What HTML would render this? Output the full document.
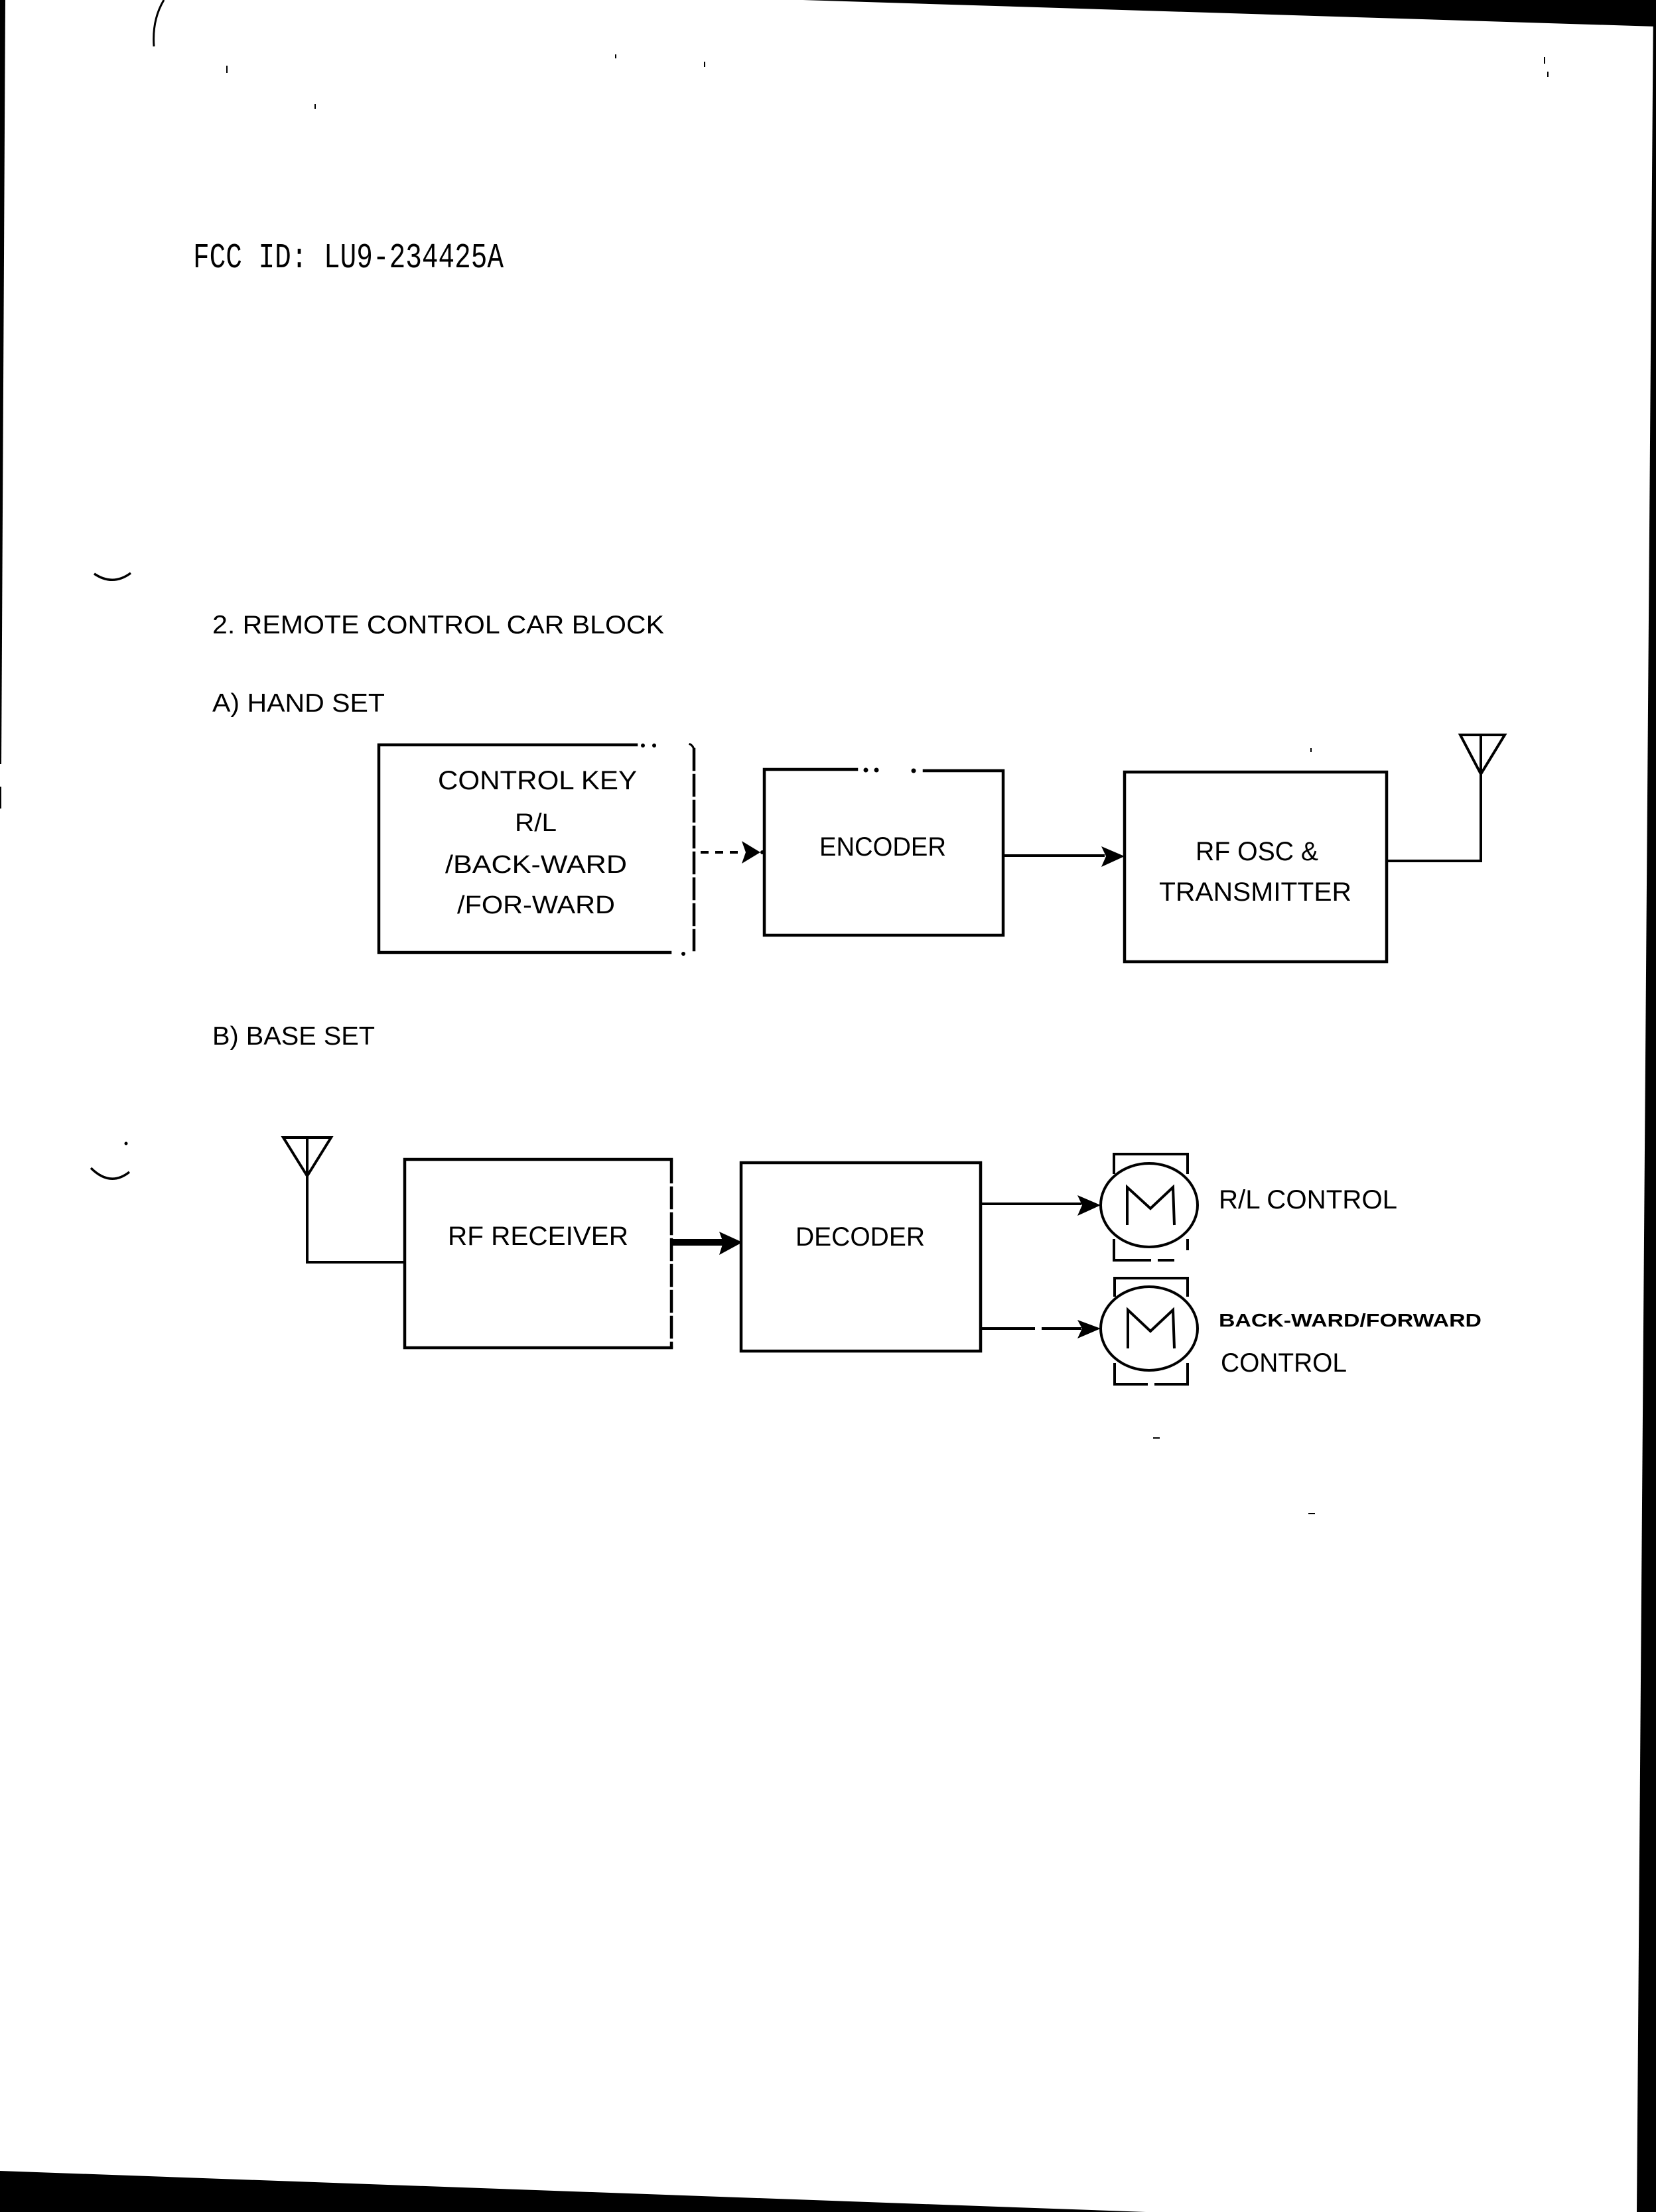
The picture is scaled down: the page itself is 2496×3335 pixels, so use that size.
<!DOCTYPE html>
<html>
<head>
<meta charset="utf-8">
<style>
  html,body{margin:0;padding:0;background:#fff;}
  body{width:2496px;height:3335px;overflow:hidden;}
  svg{display:block;}
  .t{font-family:"Liberation Sans",Arial,sans-serif;fill:#000;}
  .m{font-family:"Liberation Mono","Courier New",monospace;fill:#000;}
</style>
</head>
<body>
<svg width="2496" height="3335" viewBox="0 0 2496 3335" xmlns="http://www.w3.org/2000/svg">
  <rect x="0" y="0" width="2496" height="3335" fill="#fff"/>

  <!-- scan borders -->
  <polygon points="1210,0 2496,0 2496,40" fill="#000"/>
  <polygon points="2492,0 2496,0 2496,3335 2467,3335" fill="#000"/>
  <polygon points="0,3273 1727,3335 0,3335" fill="#000"/>
  <polygon points="0,0 8,0 5,580 2,1152 0,1152" fill="#000"/>
  <rect x="0" y="1186" width="2" height="33" fill="#000"/>

  <!-- margin marks -->
  <path d="M247,0 Q229,30 232,70" fill="none" stroke="#000" stroke-width="3"/>
  <path d="M142,865 Q170,884 197,864" fill="none" stroke="#000" stroke-width="3.5"/>
  <path d="M137,1761 Q166,1790 195,1767" fill="none" stroke="#000" stroke-width="3.5"/>
  <circle cx="190" cy="1724" r="2.5" fill="#000"/>
  <rect x="341" y="99" width="2" height="11" fill="#000"/>
  <rect x="927" y="82" width="2" height="6" fill="#000"/>
  <rect x="1061" y="93" width="2" height="8" fill="#000"/>
  <rect x="474" y="157" width="2" height="7" fill="#000"/>
  <rect x="2327" y="86" width="2" height="10" fill="#000"/>
  <rect x="2332" y="108" width="2" height="8" fill="#000"/>
  <rect x="1975" y="1128" width="2" height="6" fill="#000"/>
  <rect x="1738" y="2167" width="10" height="2" fill="#000"/>
  <rect x="1972" y="2281" width="10" height="2" fill="#000"/>

  <!-- FCC ID -->
  <g transform="translate(291,403) scale(1,1.3)">
    <text class="m" x="0" y="0" font-size="41" textLength="468" lengthAdjust="spacingAndGlyphs">FCC ID: LU9-234425A</text>
  </g>

  <!-- headings -->
  <text class="t" x="320" y="955" font-size="39" textLength="681" lengthAdjust="spacingAndGlyphs">2. REMOTE CONTROL CAR BLOCK</text>
  <text class="t" x="320" y="1073" font-size="39" textLength="260" lengthAdjust="spacingAndGlyphs">A) HAND SET</text>
  <text class="t" x="320" y="1575" font-size="39" textLength="245" lengthAdjust="spacingAndGlyphs">B) BASE SET</text>

  <g fill="none" stroke="#000" stroke-width="4.5" stroke-linecap="square">
    <!-- Control key box -->
    <path d="M959,1123 H571 V1436 H1010"/>
    <path d="M1046,1130 V1432" stroke-dasharray="30 9"/>
    <path d="M1040,1122 Q1048,1126 1046,1140" stroke-width="3"/>
    <!-- Encoder box -->
    <path d="M1291,1160 H1152 V1410 H1512 V1162 H1393"/>
    <!-- RF OSC box -->
    <rect x="1695" y="1164" width="395" height="286"/>
    <!-- RF receiver box -->
    <path d="M1012,1748 H610 V2032 H1012"/>
    <path d="M1012,1752 V2030" stroke-dasharray="30 9"/>
    <!-- Decoder box -->
    <rect x="1117" y="1753" width="361" height="284"/>
  </g>
  <!-- dots on box edges -->
  <circle cx="969" cy="1124" r="3" fill="#000"/>
  <circle cx="986" cy="1124" r="3" fill="#000"/>
  <circle cx="1030" cy="1438" r="3" fill="#000"/>
  <circle cx="1305" cy="1161" r="3.5" fill="#000"/>
  <circle cx="1321" cy="1161" r="3.5" fill="#000"/>
  <circle cx="1377" cy="1162" r="3.5" fill="#000"/>

  <!-- box labels -->
  <text class="t" x="660" y="1190" font-size="40" textLength="300" lengthAdjust="spacingAndGlyphs">CONTROL KEY</text>
  <text class="t" x="776" y="1253" font-size="38" textLength="63" lengthAdjust="spacingAndGlyphs">R/L</text>
  <text class="t" x="671" y="1316" font-size="38" textLength="274" lengthAdjust="spacingAndGlyphs">/BACK-WARD</text>
  <text class="t" x="689" y="1377" font-size="38" textLength="238" lengthAdjust="spacingAndGlyphs">/FOR-WARD</text>
  <text class="t" x="1235" y="1290" font-size="40" textLength="191" lengthAdjust="spacingAndGlyphs">ENCODER</text>
  <text class="t" x="1802" y="1297" font-size="40" textLength="185" lengthAdjust="spacingAndGlyphs">RF OSC &amp;</text>
  <text class="t" x="1747" y="1358" font-size="40" textLength="290" lengthAdjust="spacingAndGlyphs">TRANSMITTER</text>
  <text class="t" x="675" y="1877" font-size="40" textLength="272" lengthAdjust="spacingAndGlyphs">RF RECEIVER</text>
  <text class="t" x="1199" y="1878" font-size="40" textLength="195" lengthAdjust="spacingAndGlyphs">DECODER</text>
  <text class="t" x="1837" y="1822" font-size="40" textLength="269" lengthAdjust="spacingAndGlyphs">R/L CONTROL</text>
  <text class="t" x="1837" y="2000" font-size="28" font-weight="bold" textLength="396" lengthAdjust="spacingAndGlyphs">BACK-WARD/FORWARD</text>
  <text class="t" x="1840" y="2068" font-size="40" textLength="190" lengthAdjust="spacingAndGlyphs">CONTROL</text>

  <!-- connectors -->
  <g fill="none" stroke="#000" stroke-width="4">
    <path d="M1056,1285 H1122" stroke-dasharray="12 10"/>
    <path d="M1512,1290 H1665"/>
    <path d="M2090,1298 H2232 V1108"/>
    <path d="M2201,1108 H2268 L2232,1167 Z"/>
    <path d="M463,1715 V1903 H610"/>
    <path d="M427,1715 H499 L463,1773 Z"/>
    <path d="M1012,1873 H1090" stroke-width="10"/>
    <path d="M1478,1815 H1630"/>
    <path d="M1478,2003 H1560 M1570,2003 H1630"/>
  </g>
  <!-- arrowheads -->
  <polygon points="1118,1268 1146,1285 1118,1302 1124,1285" fill="#000"/>
  <circle cx="1149" cy="1285" r="3" fill="#000"/>
  <polygon points="1660,1276 1695,1291 1660,1307 1667,1291" fill="#000"/>
  <polygon points="1084,1857 1119,1873 1084,1892 1090,1873" fill="#000"/>
  <polygon points="1624,1802 1659,1817 1624,1833 1631,1817" fill="#000"/>
  <polygon points="1624,1990 1659,2003 1624,2018 1631,2003" fill="#000"/>

  <!-- motors -->
  <g fill="none" stroke="#000" stroke-width="4">
    <ellipse cx="1732" cy="1817" rx="73" ry="63"/>
    <path d="M1679,1770 V1740 H1790 V1770"/>
    <path d="M1679,1868 V1900 H1735 M1745,1900 H1770"/>
    <path d="M1790,1868 V1885"/>
    <polyline points="1699,1847 1699,1790 1734,1822 1768,1790 1770,1847"/>

    <ellipse cx="1732" cy="2003" rx="73" ry="63"/>
    <path d="M1680,1955 V1927 H1790 V1955"/>
    <path d="M1680,2055 V2087 H1730 M1740,2087 H1790 V2055"/>
    <polyline points="1700,2033 1700,1975 1734,2007 1768,1975 1770,2033"/>
  </g>
</svg>
</body>
</html>
